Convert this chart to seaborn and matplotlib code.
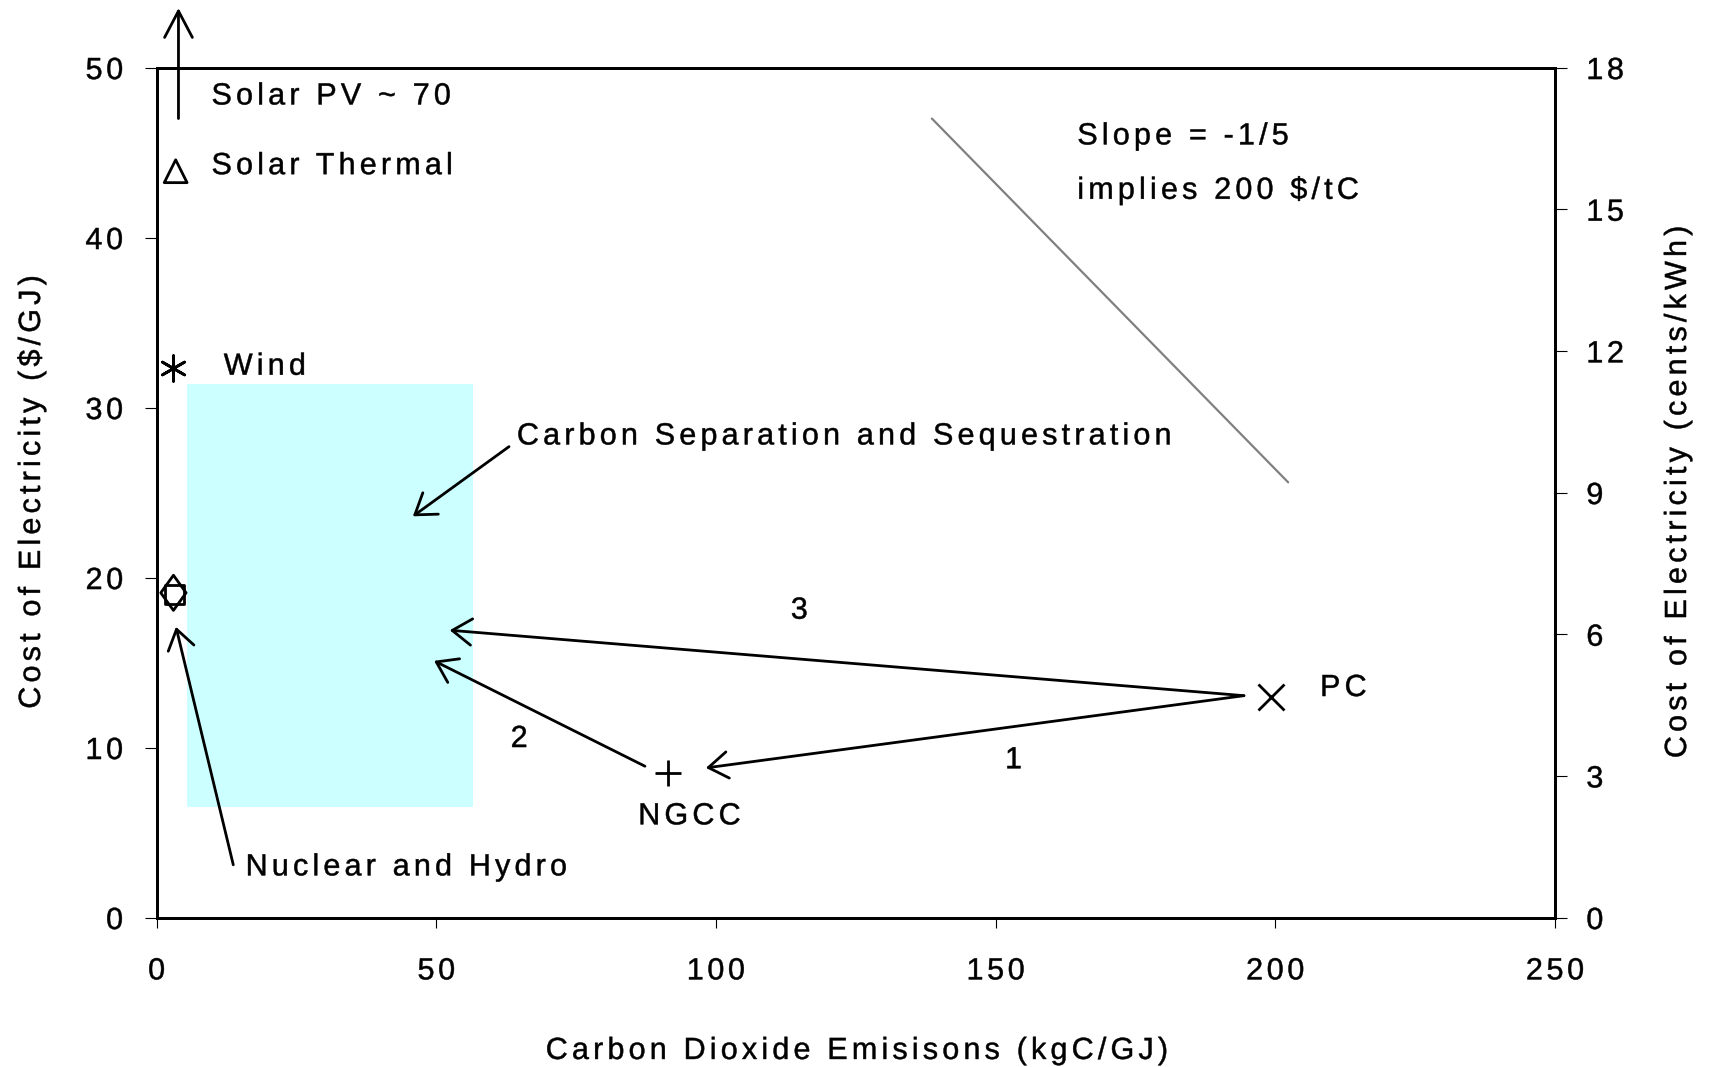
import matplotlib
matplotlib.use("Agg")
import numpy as np
import matplotlib.pyplot as plt
import seaborn as sns
import pandas as pd
from matplotlib.patches import Rectangle
from matplotlib.path import Path
from matplotlib.patheffects import AbstractPathEffect
from matplotlib.textpath import TextToPath

# Technologies: emissions (kgC/GJ) and cost of electricity ($/GJ)
tech_names = ["Solar Thermal", "Wind", "Nuclear", "Hydro", "NGCC", "PC"]
tech_emissions = [3.4, 3.0, 3.0, 3.2, 91.5, 199.2]
tech_cost = [43.9, 32.3, 19.1, 19.0, 8.5, 13.0]

# Carbon separation and sequestration range
css_emissions = [5.4, 56.6]
css_cost = [6.5, 31.4]

# Reference slope line
slope_x = [138.6, 202.3]
slope_y = [47.0, 25.6]

# Transitions between technologies (from -> to)
arrow_from_x = [194.4, 194.4, 87.3, 63.0, 13.7]
arrow_from_y = [13.05, 13.05, 8.9, 27.7, 3.1]
arrow_to_x = [98.2, 52.4, 49.6, 45.8, 3.45]
arrow_to_y = [8.8, 16.9, 15.1, 23.6, 17.1]

# Solar PV (~70 $/GJ) lies above the axis range
pv_x = 3.9
pv_from_y = 47.0
pv_to_y = 53.5

x_ticks = [0, 50, 100, 150, 200, 250]
y_ticks = [0, 10, 20, 30, 40, 50]
y2_ticks = [0, 3, 6, 9, 12, 15, 18]

FS = 22
TRACK = 3.0

sns.set_theme(style="ticks")
plt.rcParams["font.family"] = ["Liberation Sans", "DejaVu Sans"]
plt.rcParams["text.color"] = "black"

_t2p = TextToPath()
_contour_cache = {}


class Tracking(AbstractPathEffect):
    """Draw a text path with extra spacing between the glyphs."""

    def __init__(self, text, track_pts, stroke=0.35):
        super().__init__()
        self.text = text
        self.track_pts = track_pts
        self.stroke = stroke

    def _contours(self, ch, prop):
        key = (ch, prop.get_family()[0] if prop.get_family() else "")
        if key not in _contour_cache:
            _, codes = _t2p.get_text_path(prop, ch)
            _contour_cache[key] = int(np.sum(np.asarray(codes, dtype=int) == Path.MOVETO))
        return _contour_cache[key]

    def _draw(self, renderer, gc, path, affine, rgbFace):
        gc0 = renderer.new_gc()
        gc0.copy_properties(gc)
        if rgbFace is not None and self.stroke > 0:
            gc0.set_linewidth(self.stroke)
            gc0.set_foreground(rgbFace)
        renderer.draw_path(gc0, path, affine, rgbFace)
        gc0.restore()

    def draw_path(self, renderer, gc, tpath, affine, rgbFace=None):
        s = self.text.get_text()
        prop = self.text.get_fontproperties()
        size = prop.get_size_in_points()
        verts = np.array(tpath.vertices, dtype=float)
        codes = tpath.codes
        if codes is None or len(s) < 2:
            self._draw(renderer, gc, tpath, affine, rgbFace)
            return
        counts = [self._contours(ch, prop) for ch in s]
        owner = np.repeat(np.arange(len(s)), counts)
        starts = np.flatnonzero(np.asarray(codes) == Path.MOVETO)
        if len(starts) != len(owner):
            self._draw(renderer, gc, tpath, affine, rgbFace)
            return
        unit = self.track_pts * _t2p.FONT_SCALE / size
        bounds = list(starts) + [len(verts)]
        for k in range(len(starts)):
            verts[bounds[k]:bounds[k + 1], 0] += owner[k] * unit
        total = unit * (len(s) - 1)
        ha = self.text.get_horizontalalignment()
        if ha == "center":
            verts[:, 0] -= total / 2
        elif ha == "right":
            verts[:, 0] -= total
        self._draw(renderer, gc, Path(verts, codes), affine, rgbFace)


def track(text_obj, amount=TRACK):
    text_obj.set_path_effects([Tracking(text_obj, amount)])
    return text_obj


fig = plt.figure(figsize=(17.14, 10.67), dpi=100)
ax = fig.add_axes([0.0914, 0.1401, 0.8158, 0.7966])

# Markers
plus_like = dict(color="black", linewidth=2.0, ax=ax, zorder=5, clip_on=False, legend=False)
open_like = dict(facecolor="none", edgecolor="black", linewidth=2.0, ax=ax, zorder=5,
                 clip_on=False, legend=False)
tall_diamond = Path([(0, 1), (0.72, 0), (0, -1), (-0.72, 0), (0, 1)],
                    [Path.MOVETO, Path.LINETO, Path.LINETO, Path.LINETO, Path.CLOSEPOLY])

df = pd.DataFrame({"name": tech_names, "emissions": tech_emissions, "cost": tech_cost})
sns.scatterplot(data=df[df.name == "Solar Thermal"], x="emissions", y="cost",
                marker="^", s=270, **open_like)
sns.scatterplot(data=df[df.name == "Wind"], x="emissions", y="cost",
                marker=(6, 2, 0), s=340, **plus_like)
sns.scatterplot(data=df[df.name == "Nuclear"], x="emissions", y="cost",
                marker=tall_diamond, s=640, **open_like)
sns.scatterplot(data=df[df.name == "Hydro"], x="emissions", y="cost",
                marker="s", s=200, **open_like)
sns.scatterplot(data=df[df.name == "NGCC"], x="emissions", y="cost",
                marker="+", s=330, **plus_like)
sns.scatterplot(data=df[df.name == "PC"], x="emissions", y="cost",
                marker="x", s=350, **plus_like)

ax.add_patch(Rectangle((css_emissions[0], css_cost[0]),
                       css_emissions[1] - css_emissions[0], css_cost[1] - css_cost[0],
                       facecolor="#ccffff", edgecolor="none", zorder=1))

sns.lineplot(x=slope_x, y=slope_y, color="#808080", linewidth=1.6, ax=ax, zorder=2)

arrow_style = dict(arrowstyle="->,head_length=1.4,head_width=0.95", color="black", lw=2.0,
                   shrinkA=0, shrinkB=0, mutation_scale=10)
for fx, fy, tx, ty in zip(arrow_from_x, arrow_from_y, arrow_to_x, arrow_to_y):
    ax.annotate("", xy=(tx, ty), xytext=(fx, fy), arrowprops=arrow_style, zorder=4)

pv_style = dict(arrow_style, arrowstyle="->,head_length=1.9,head_width=1.0")
ax.annotate("", xy=(pv_x, pv_to_y), xytext=(pv_x, pv_from_y), arrowprops=pv_style,
            annotation_clip=False, zorder=4)

labels = [
    (9.8, 48.3, "Solar PV ~ 70", "left"),
    (9.8, 44.2, "Solar Thermal", "left"),
    (12.0, 32.4, "Wind", "left"),
    (64.4, 28.3, "Carbon Separation and Sequestration", "left"),
    (114.9, 18.05, "3", "center"),
    (64.8, 10.5, "2", "center"),
    (153.2, 9.25, "1", "center"),
    (208.0, 13.5, "PC", "left"),
    (95.2, 5.95, "NGCC", "center"),
    (15.9, 2.95, "Nuclear and Hydro", "left"),
    (164.6, 45.95, "Slope = -1/5", "left"),
    (164.6, 42.75, "implies 200 $/tC", "left"),
]
for lx, ly, txt, ha in labels:
    track(ax.text(lx, ly, txt, fontsize=FS, va="center", ha=ha, color="black"))

ax.set_xlim(0, 250)
ax.set_ylim(0, 50)
ax.set_xticks(x_ticks)
ax.set_xticklabels([str(v) for v in x_ticks])
ax.set_yticks(y_ticks)
ax.set_yticklabels([str(v) for v in y_ticks])
ax.tick_params(axis="x", labelsize=FS, width=0.8, length=7, direction="out", pad=21,
               color="black", labelcolor="black")
ax.tick_params(axis="y", labelsize=FS, width=0.8, length=8.6, direction="out", pad=15.5,
               color="black", labelcolor="black")
ax.set_xlabel("Carbon Dioxide Emisisons (kgC/GJ)", fontsize=FS, color="black", va="center")
ax.xaxis.set_label_coords(0.5, -0.157)
ax.set_ylabel("Cost of Electricity ($/GJ)", fontsize=FS, color="black", va="center")
ax.yaxis.set_label_coords(-0.0892, 0.5)

ax2 = ax.twinx()
ax2.set_ylim(0, 18)
ax2.set_yticks(y2_ticks)
ax2.set_yticklabels([str(v) for v in y2_ticks])
ax2.tick_params(axis="y", labelsize=FS, width=0.8, length=8.6, direction="out", pad=14,
                color="black", labelcolor="black")
ax2.set_ylabel("Cost of Electricity (cents/kWh)", fontsize=FS, color="black", va="center")
ax2.yaxis.set_label_coords(1.088, 0.5)

for a in (ax, ax2):
    for sp in a.spines.values():
        sp.set_visible(True)
        sp.set_linewidth(2.0)
        sp.set_color("black")

for t in ax.get_xticklabels() + ax.get_yticklabels() + ax2.get_yticklabels():
    track(t, 2.6)
for t in (ax.xaxis.label, ax.yaxis.label, ax2.yaxis.label):
    track(t)

fig.savefig("out.png", dpi=100, facecolor="white")
